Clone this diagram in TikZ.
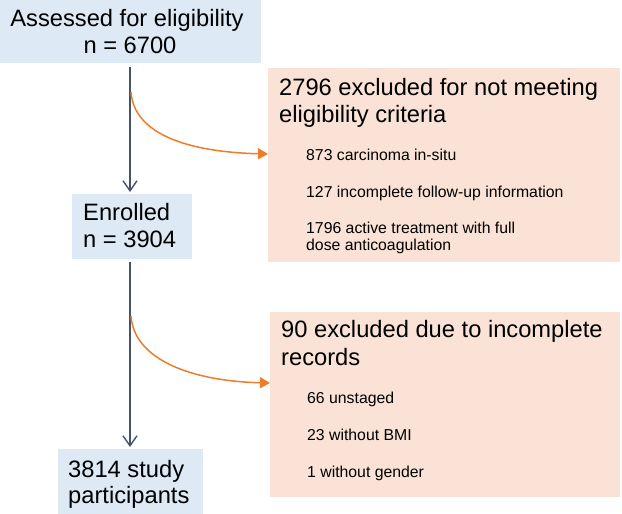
\documentclass[tikz,border=0pt]{standalone}
\usepackage{fontspec}
\setmainfont{Liberation Sans}
\usetikzlibrary{arrows.meta}
\definecolor{bluebox}{HTML}{DDE9F5}
\definecolor{orangebox}{HTML}{FAE3D6}
\definecolor{orangeline}{HTML}{EE7D2B}
\definecolor{darkline}{HTML}{44546A}
\begin{document}
\begin{tikzpicture}[x=1pt,y=-1pt,
  bluefill/.style={fill=bluebox,draw=none,inner sep=0pt,anchor=north west},
  orangefill/.style={fill=orangebox,draw=none,inner sep=0pt,anchor=north west},
  bigtxt/.style={font=\fontsize{23.7}{28}\selectfont,inner sep=0pt,anchor=base west},
  smalltxt/.style={font=\fontsize{15.8}{19}\selectfont,inner sep=0pt,anchor=base west,align=left},
  mainarrow/.style={draw=darkline,line width=1.4pt,-{Straight Barb[length=10pt,width=14pt,line width=1.4pt]}},
  exclarrow/.style={draw=orangeline,line width=1.5pt,-{Triangle[length=10pt,width=11pt]}}]
\useasboundingbox (0,0) rectangle (622,514);
% boxes
\node[bluefill,minimum width=261pt,minimum height=63pt] (b1) at (0,0) {};
\node[bluefill,minimum width=120pt,minimum height=65pt] (b2) at (72,194) {};
\node[bluefill,minimum width=145pt,minimum height=65pt] (b3) at (58,449) {};
\node[orangefill,minimum width=352pt,minimum height=194pt] (e1) at (268,68) {};
\node[orangefill,minimum width=350pt,minimum height=185pt] (e2) at (270,312) {};
% texts
\node[bigtxt,anchor=base] (t1a) at (127,27) {Assessed for eligibility};
\node[bigtxt,anchor=base] (t1b) at (130,53) {n = 6700};
\node[bigtxt] (t2a) at (83,220) {Enrolled};
\node[bigtxt] (t2b) at (83,247) {n = 3904};
\node[bigtxt] (t3a) at (68,477) {3814 study};
\node[bigtxt] (t3b) at (68,503) {participants};
\node[bigtxt] (e1a) at (279,95) {2796 excluded for not meeting};
\node[bigtxt] (e1b) at (279,122) {eligibility criteria};
\node[smalltxt] (e1c) at (306,160) {873 carcinoma in-situ};
\node[smalltxt] (e1d) at (306,197) {127 incomplete follow-up information};
\node[smalltxt] (e1e) at (306,233) {1796 active treatment with full};
\node[smalltxt] (e1f) at (306,250) {dose anticoagulation};
\node[bigtxt] (e2a) at (281,337) {90 excluded due to incomplete};
\node[bigtxt] (e2b) at (281,365) {records};
\node[smalltxt] (e2c) at (307,403) {66 unstaged};
\node[smalltxt] (e2d) at (307,440) {23 without BMI};
\node[smalltxt] (e2e) at (307,477) {1 without gender};
% connector coordinates
\coordinate (s1) at (130,67);
\coordinate (n2) at (130,192);
\coordinate (s2) at (130,262);
\coordinate (n3) at (130,447);
\coordinate (c1) at (131,92);
\coordinate (c2) at (131,316);
\coordinate (x1) at (e1.west |- 0,154);
\coordinate (x2) at (e2.west |- 0,383);
% connectors
\draw[mainarrow] (s1) -- (n2);
\draw[mainarrow] (s2) -- (n3);
\draw[exclarrow] (c1) .. controls (134,135) and (190,152) .. (x1);
\draw[exclarrow] (c2) .. controls (134,359) and (190,381) .. (x2);
\end{tikzpicture}
\end{document}
